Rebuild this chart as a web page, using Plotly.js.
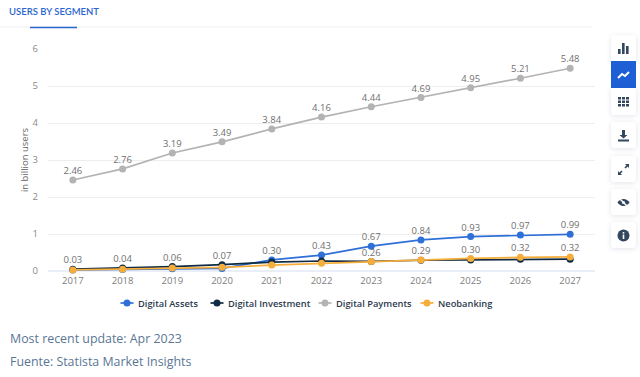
<!DOCTYPE html>
<html><head><meta charset="utf-8">
<script src="https://cdn.plot.ly/plotly-3.0.1.min.js"></script>
<style>
html,body{margin:0;padding:0;background:#fff;overflow:hidden}
#chart{position:absolute;left:0;top:0;width:640px;height:377px}
.btn{position:absolute;left:611px;width:25px;background:#fff;box-shadow:0 1px 5px rgba(30,50,90,.13);border-radius:3px;display:flex;align-items:center;justify-content:center}
.btn svg{width:13px;height:13px;fill:#33475f}
</style></head><body>
<div id="chart"></div>
<div class="btn" style="top:35px;height:26px;border-radius:3px 3px 0 0"><svg viewBox="0 0 13 13"><rect x="1" y="7" width="2.6" height="5"/><rect x="5" y="1" width="2.6" height="11"/><rect x="9" y="4" width="2.6" height="8"/></svg></div>
<div class="btn" style="top:61px;height:27px;background:#1f5fd6;box-shadow:none;border-radius:0"><svg viewBox="0 0 13 13" style="fill:none;stroke:#fff;stroke-width:2"><path d="M1 10 L5 6 L8 8 L12 4"/></svg></div>
<div class="btn" style="top:88px;height:27px;border-radius:0 0 3px 3px"><svg viewBox="0 0 13 13"><path d="M1 2h3v2.5H1zM5 2h3v2.5H5zM9 2h3v2.5H9zM1 5.5h3V8H1zM5 5.5h3V8H5zM9 5.5h3V8H9zM1 9h3v2.5H1zM5 9h3v2.5H5zM9 9h3v2.500H9z"/></svg></div>
<div class="btn" style="top:122px;height:26px"><svg viewBox="0 0 13 13"><path d="M5 1h3v5h2.5L6.500 9.500 2.500 6H5zM1 10.500h11V12.500H1z"/></svg></div>
<div class="btn" style="top:156px;height:26px"><svg viewBox="0 0 13 13"><path d="M8 1h4v4l-1.400-1.400-2 2-1.200-1.200 2-2zM5 12H1V8l1.400 1.400 2-2 1.200 1.200-2 2z"/></svg></div>
<div class="btn" style="top:189px;height:26px"><svg viewBox="0 0 13 13"><path d="M6.500 3C9.500 3 11.500 5 12.500 6.500 11.500 8 9.500 10 6.500 10S1.500 8 .5 6.500C1.500 5 3.500 3 6.500 3z"/><circle cx="6.500" cy="6.500" r="1.500" fill="#fff"/><path d="M2 2 L11 11" stroke="#fff" stroke-width="1.400"/></svg></div>
<div class="btn" style="top:222px;height:26px"><svg viewBox="0 0 13 13"><circle cx="6.500" cy="6.500" r="6"/><rect x="5.700" y="5.500" width="1.600" height="4.500" fill="#fff"/><rect x="5.700" y="3" width="1.600" height="1.600" fill="#fff"/></svg></div>
<script>
var years = ['2017','2018','2019','2020','2021','2022','2023','2024','2025','2026','2027'];
var digitalAssets = [0.03,0.04,0.06,0.07,0.30,0.43,0.67,0.84,0.93,0.97,0.99];
var digitalInvestment = [0.05,0.08,0.12,0.17,0.24,0.27,0.26,0.29,0.30,0.32,0.32];
var digitalPayments = [2.46,2.76,3.19,3.49,3.84,4.16,4.44,4.69,4.95,5.21,5.48];
var neobanking = [0.03,0.05,0.08,0.10,0.16,0.21,0.26,0.30,0.34,0.37,0.38];
var assetsLabels = ['','','','','0.30','0.43','0.67','0.84','0.93','0.97','0.99'];
var investmentLabels = ['0.03','0.04','0.06','0.07','','','','','','',''];
var neobankingLabels = ['','','','','','','0.26','0.29','0.30','0.32','0.32'];
var paymentsLabels = ['2.46','2.76','3.19','3.49','3.84','4.16','4.44','4.69','4.95','5.21','5.48'];
var legendNames = ['Digital Assets','Digital Investment','Digital Payments','Neobanking'];
var legendColors = ['#2f6fd8','#0f2a44','#b3b3b3','#f5ae3c'];
var legendMarkerX = [127,217,325,427];

function series(i,y){
  return {type:'scatter',mode:'lines+markers',name:legendNames[i],x:years,y:y,cliponaxis:false,
    line:{color:legendColors[i],width:1.7},marker:{color:legendColors[i],size:7},hoverinfo:'x+y'};
}
function labels(y,text){
  return {type:'scatter',mode:'markers+text',x:years,y:y,text:text,textposition:'top center',cliponaxis:false,showlegend:false,
    marker:{size:4,opacity:0},
    textfont:{family:'Open Sans',size:9.5,color:'#6f6f6f'},hoverinfo:'skip'};
}
var traces = [
  series(0,digitalAssets),series(1,digitalInvestment),series(2,digitalPayments),series(3,neobanking),
  labels(digitalAssets,assetsLabels),labels(digitalInvestment,investmentLabels),
  labels(digitalPayments,paymentsLabels),labels(neobanking,neobankingLabels)
];
var W=640,H=377,PW=547,PH=222;
function fx(px){return (px-48)/PW;}
function fy(py){return (271-py)/PH;}
var shapes=[
  {type:'line',xref:'paper',yref:'paper',x0:fx(0),x1:fx(592),y0:fy(27),y1:fy(27),line:{color:'#eef0f3',width:1}},
  {type:'line',xref:'paper',yref:'paper',x0:fx(30),x1:fx(77),y0:fy(27.5),y1:fy(27.5),line:{color:'#2a66d0',width:1.5}}
];
var annotations=[
  {text:'Most recent update: Apr 2023',xref:'paper',yref:'paper',x:fx(7.5),xanchor:'left',y:fy(338),yanchor:'middle',showarrow:false,font:{family:'Open Sans',size:12.4,color:'#5b7695'}},
  {text:'Fuente: Statista Market Insights',xref:'paper',yref:'paper',x:fx(7.5),xanchor:'left',y:fy(361),yanchor:'middle',showarrow:false,font:{family:'Open Sans',size:12.4,color:'#5b7695'}}
];
legendNames.forEach(function(n,i){
  var c=legendMarkerX[i];
  shapes.push({type:'line',xref:'paper',yref:'paper',x0:fx(c-6.5),x1:fx(c+6.5),y0:fy(303),y1:fy(303),line:{color:legendColors[i],width:1.7}});
  shapes.push({type:'circle',xref:'paper',yref:'paper',x0:fx(c-3.5),x1:fx(c+3.5),y0:fy(299.500),y1:fy(306.500),fillcolor:legendColors[i],line:{width:0}});
  annotations.push({text:n,xref:'paper',yref:'paper',x:fx(c+9),xanchor:'left',y:fy(303),yanchor:'middle',showarrow:false,
    font:{family:'Open Sans',size:9.3,weight:600,color:'#2c3a4d'}});
});
var layout = {
  width:W,height:H,paper_bgcolor:'#fff',plot_bgcolor:'#fff',showlegend:false,
  margin:{l:48,r:45,t:49,b:106,pad:0},
  font:{family:'Open Sans',color:'#777'},
  title:{text:'USERS BY SEGMENT',x:9/W,xanchor:'left',xref:'container',y:1-12/H,yanchor:'middle',yref:'container',
    font:{family:'Lato',size:9.5,weight:600,color:'#2a66d0'}},
  xaxis:{type:'category',range:[-0.5,10.5],showgrid:false,zeroline:false,showline:false,ticks:'',
    tickfont:{family:'Open Sans',size:9.5,color:'#7d7d7d'},ticklabelstandoff:2},
  yaxis:{range:[0,6],tickvals:[0,1,2,3,4,5,6],ticktext:['0','1','2','3','4','5','6'],
    gridcolor:'#eeeeee',gridwidth:1,zeroline:true,zerolinecolor:'#e9eef8',zerolinewidth:2,showline:false,ticks:'',
    tickfont:{family:'Open Sans',size:9.5,color:'#8a8a8a'},ticklabelstandoff:9,
    title:{text:'in billion users',font:{family:'Open Sans',size:9.5,color:'#666666'},standoff:2}},
  shapes:shapes,annotations:annotations
};
Plotly.newPlot('chart',traces,layout,{displayModeBar:false,staticPlot:true});
</script>
</body></html>
